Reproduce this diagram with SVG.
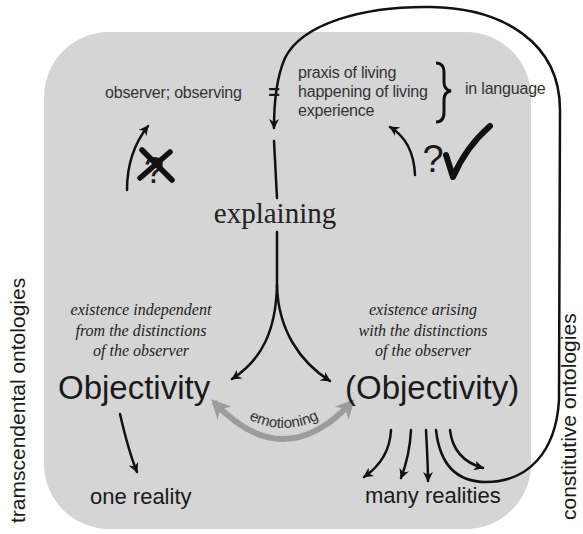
<svg xmlns="http://www.w3.org/2000/svg" width="583" height="534" viewBox="0 0 583 534">
<defs>
<marker id="ah" viewBox="0 0 10 10" refX="9" refY="5" markerWidth="4" markerHeight="4" orient="auto" markerUnits="strokeWidth">
<path d="M0 0 L10 5 L0 10 L3 5 Z" fill="#111"/>
</marker>
<marker id="ahg" viewBox="0 0 10 10" refX="8" refY="5" markerWidth="3.2" markerHeight="3.2" orient="auto-start-reverse" markerUnits="strokeWidth">
<path d="M0 0 L10 5 L0 10 L3 5 Z" fill="#9c9c9c"/>
</marker>
<style>
.sans{font-family:"Liberation Sans",Arial,sans-serif;fill:#333}
.big{font-family:"Liberation Sans",Arial,sans-serif;fill:#1a1a1a}
.ital{font-family:"Liberation Serif","Times New Roman",serif;font-style:italic;font-size:16px;fill:#222;text-anchor:middle}
.con{fill:none;stroke:#111;stroke-width:2.5;stroke-linecap:round}
</style>
</defs>
<rect x="0" y="0" width="583" height="534" fill="#fff"/>
<rect id="panel" x="44" y="32" width="487" height="497" rx="65" ry="65" fill="#d5d5d5"/>

<g id="connectors">
<path class="con" d="M436 430 C440 466 458 482 486 482 C528 482 556 452 559 400 L560 110 C560 42 502 8 431 7 C362 6 302 24 285 58 C277 76 274 100 274 128" marker-end="url(#ah)"/>
<path class="con" d="M274 141 L277 198"/>
<path class="con" d="M277 232 L277 285 C276 330 262 360 232 379" marker-end="url(#ah)"/>
<path class="con" d="M277 285 C278 330 300 362 330 381" marker-end="url(#ah)"/>
<path class="con" d="M120 414 C126 440 130 455 137 472" marker-end="url(#ah)"/>
<path class="con" d="M391 430 C390 452 380 466 364 477" marker-end="url(#ah)"/>
<path class="con" d="M411 430 C410 450 406 465 401 478" marker-end="url(#ah)"/>
<path class="con" d="M426 430 C427 450 428 465 428 481" marker-end="url(#ah)"/>
<path class="con" d="M450 430 C452 448 462 462 483 468" marker-end="url(#ah)"/>
<path class="con" d="M127 190 C127 165 133 145 148 126" marker-end="url(#ah)"/>
<path class="con" d="M415 175 C414 152 405 136 390 127" marker-end="url(#ah)"/>
<path d="M214 402 Q283 476 352 402" fill="none" stroke="#9c9c9c" stroke-width="6" marker-start="url(#ahg)" marker-end="url(#ahg)"/>
</g>

<g id="observer">
<text class="sans" x="105" y="98" font-size="16" letter-spacing="-0.2">observer; observing</text>
<text class="big" x="274" y="99" font-size="20" font-weight="bold" text-anchor="middle">=</text>
</g>
<g id="living">
<text class="sans" x="298" y="78" font-size="16" letter-spacing="-0.2">praxis of living</text>
<text class="sans" x="298" y="97" font-size="16" letter-spacing="-0.2">happening of living</text>
<text class="sans" x="298" y="116" font-size="16" letter-spacing="-0.2">experience</text>
<path d="M436 63 Q444 63 444 72 L444 82 Q444 90 451 91 Q444 92 444 100 L444 112 Q444 122 436 122" fill="none" stroke="#111" stroke-width="3"/>
<text class="sans" x="465" y="94" font-size="16" letter-spacing="-0.2">in language</text>
</g>
<g id="crossed">
<text class="big" x="154" y="183" font-size="36" text-anchor="middle">?</text>
<path d="M142 150 L172 180 M170 152 L140 178" stroke="#111" stroke-width="5.5" stroke-linecap="round" fill="none"/>
</g>
<g id="check">
<text class="big" x="433" y="172" font-size="38" text-anchor="middle">?</text>
<path d="M446 155 L453 177 Q466 147 490 126" fill="none" stroke="#111" stroke-width="6" stroke-linecap="round" stroke-linejoin="round"/>
</g>
<g id="explaining">
<text x="275" y="223" font-family="Liberation Serif,'Times New Roman',serif" font-size="29" fill="#222" text-anchor="middle">explaining</text>
</g>
<g id="left-desc">
<text class="ital" x="141" y="315">existence independent</text>
<text class="ital" x="141" y="336">from the distinctions</text>
<text class="ital" x="141" y="356">of the observer</text>
</g>
<g id="right-desc">
<text class="ital" x="423" y="315">existence arising</text>
<text class="ital" x="423" y="336">with the distinctions</text>
<text class="ital" x="423" y="356">of the observer</text>
</g>
<g id="objectivity">
<text class="big" x="58" y="399" font-size="33">Objectivity</text>
</g>
<g id="objectivity2">
<text class="big" x="345" y="399" font-size="33">(Objectivity)</text>
</g>
<g id="emotioning">
<path id="emopath" d="M234 410 Q283 446 334 410" fill="none"/>
<text font-family="Liberation Sans,Arial,sans-serif" font-size="15" fill="#333"><textPath href="#emopath" startOffset="50%" text-anchor="middle">emotioning</textPath></text>
</g>
<g id="one-reality">
<text class="big" x="90" y="504" font-size="22">one reality</text>
</g>
<g id="many-realities">
<text class="big" x="365" y="503" font-size="22">many realities</text>
</g>
<g id="side-labels">
<text class="big" transform="translate(25 523) rotate(-90)" font-size="21">tramscendental ontologies</text>
<text class="big" transform="translate(576 520) rotate(-90)" font-size="21">constitutive ontologies</text>
</g>
</svg>
